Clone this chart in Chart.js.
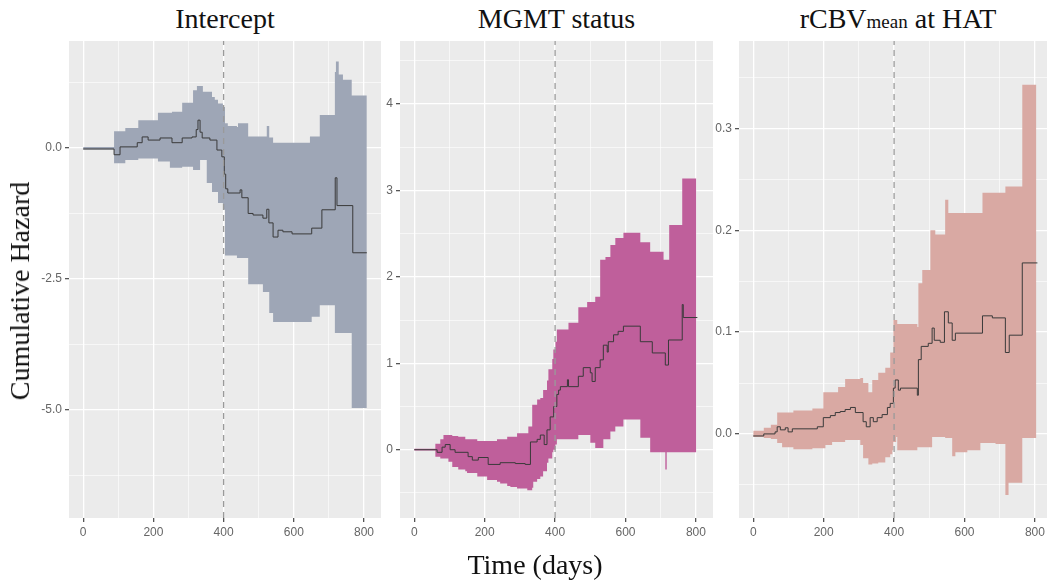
<!DOCTYPE html>
<html>
<head>
<meta charset="utf-8">
<script src="https://cdn.jsdelivr.net/npm/chart.js@4.4.0/dist/chart.umd.min.js"></script>
<style>
  html, body { margin: 0; padding: 0; background: #fff; width: 1047px; height: 583px; overflow: hidden; }
  .panel { position: absolute; top: 41px; height: 507px; }
  .txt { position: absolute; font-family: "Liberation Serif", "Times New Roman", serif; color: #111; white-space: nowrap; line-height: 34px; }
  .title { top: 2px; font-size: 28px; text-align: center; }
  .title small { font-size: 19px; }
</style>
</head>
<body>
<div class="panel" id="wrap1" style="left:24px;width:357px"><canvas id="c1"></canvas></div>
<div class="panel" id="wrap2" style="left:355px;width:358px"><canvas id="c2"></canvas></div>
<div class="panel" id="wrap3" style="left:694px;width:358px"><canvas id="c3"></canvas></div>

<div class="txt title" style="left:69px;width:312px">Intercept</div>
<div class="txt title" style="left:400px;width:313px">MGMT status</div>
<div class="txt title" style="left:739px;width:318px">rCBV<small>mean</small> at HAT</div>
<div class="txt" style="left:535px;top:548px;font-size:28px;transform:translateX(-50%)">Time (days)</div>
<div class="txt" style="left:20px;top:291px;font-size:28px;transform:translate(-50%,-50%) rotate(-90deg)">Cumulative Hazard</div>

<script>
// x axis (days)
const xMin = -40.4;
const xMax = 848.4;
const xMajor = [0, 200, 400, 600, 800];
const xMinor = [100, 300, 500, 700];
const cutDay = 400;

// Intercept
const p1BandT = [0, 88, 120, 157, 213, 247, 253, 282, 313, 324, 333, 341, 352, 367, 375, 384, 398, 404, 412, 438, 441, 466, 470, 512, 523, 530, 541, 623, 646, 651, 674, 717, 720, 728, 740, 765, 808];
const p1Upper = [0.02, 0.32, 0.38, 0.53, 0.67, 0.67, 0.69, 0.86, 1.10, 1.18, 1.18, 1.07, 1.07, 0.97, 0.92, 0.85, 0.78, 0.47, 0.42, 0.40, 0.47, 0.47, 0.22, 0.22, 0.42, 0.20, 0.10, 0.10, 0.22, 0.22, 0.63, 1.45, 1.65, 1.40, 1.30, 1.00, 1.00];
const p1Lower = [-0.03, -0.29, -0.23, -0.20, -0.26, -0.38, -0.38, -0.36, -0.42, -0.42, -0.23, -0.23, -0.67, -0.84, -0.84, -1.05, -1.18, -2.05, -2.05, -2.10, -2.10, -2.10, -2.60, -2.75, -2.75, -3.15, -3.32, -3.32, -3.32, -3.22, -3.00, -3.53, -3.53, -3.53, -3.53, -4.96, -4.96];
const p1LineT = [0, 88, 105, 154, 168, 185, 219, 253, 282, 310, 322, 327, 333, 339, 361, 381, 395, 402, 406, 412, 447, 452, 470, 484, 512, 523, 529, 541, 555, 569, 595, 651, 680, 718, 723, 768, 808];
const p1Line = [-0.02, -0.13, 0.02, 0.10, 0.21, 0.15, 0.19, 0.10, 0.19, 0.21, 0.35, 0.53, 0.30, 0.19, 0.15, -0.04, -0.17, -0.50, -0.78, -0.86, -0.80, -0.95, -1.25, -1.28, -1.34, -1.17, -1.43, -1.70, -1.57, -1.60, -1.64, -1.53, -1.18, -0.57, -1.10, -2.00, -2.00];
const p1YMajor = [-5, -2.5, 0];
const p1YMinor = [-6.25, -3.75, -1.25, 1.25];

// MGMT status
const p2BandT = [0, 60, 74, 83, 97, 108, 125, 145, 150, 179, 207, 235, 244, 264, 273, 292, 321, 324, 335, 338, 349, 358, 366, 377, 381, 392, 395, 401, 405, 438, 466, 491, 500, 514, 528, 537, 543, 557, 571, 594, 642, 670, 708, 713, 717, 724, 761, 801];
const p2Upper = [0.01, 0.07, 0.12, 0.17, 0.17, 0.16, 0.15, 0.12, 0.12, 0.10, 0.10, 0.12, 0.12, 0.15, 0.15, 0.19, 0.19, 0.27, 0.52, 0.52, 0.58, 0.60, 0.69, 0.80, 0.93, 1.05, 1.16, 1.25, 1.39, 1.47, 1.65, 1.71, 1.71, 1.77, 2.20, 2.20, 2.23, 2.37, 2.45, 2.51, 2.40, 2.29, 2.20, 2.20, 2.20, 2.60, 3.14, 3.14];
const p2Lower = [-0.01, -0.08, -0.10, -0.10, -0.14, -0.20, -0.23, -0.25, -0.27, -0.31, -0.35, -0.37, -0.39, -0.42, -0.43, -0.45, -0.47, -0.47, -0.44, -0.37, -0.34, -0.31, -0.25, -0.15, -0.10, -0.03, 0.00, 0.06, 0.12, 0.12, 0.17, 0.17, 0.08, 0.02, 0.02, 0.12, 0.12, 0.21, 0.27, 0.35, 0.14, -0.03, -0.03, -0.23, -0.03, -0.03, -0.03, -0.03];
const p2LineT = [0, 65, 79, 88, 102, 116, 153, 165, 182, 210, 244, 287, 315, 330, 349, 358, 369, 377, 386, 396, 405, 410, 415, 435, 438, 466, 480, 500, 505, 514, 528, 537, 548, 551, 566, 579, 594, 642, 676, 713, 722, 761, 764, 804];
const p2Line = [0.00, -0.03, 0.03, 0.06, 0.00, -0.03, -0.08, -0.12, -0.09, -0.17, -0.15, -0.16, -0.17, 0.09, 0.12, 0.17, 0.06, 0.23, 0.38, 0.50, 0.64, 0.69, 0.73, 0.81, 0.73, 0.85, 0.95, 0.89, 0.79, 0.95, 1.04, 1.21, 1.13, 1.25, 1.33, 1.37, 1.43, 1.25, 1.12, 0.98, 1.27, 1.68, 1.53, 1.53];
const p2YMajor = [0, 1, 2, 3, 4];
const p2YMinor = [-0.5, 0.5, 1.5, 2.5, 3.5, 4.5];

// rCBV mean at HAT
const p3BandT = [0, 30, 50, 68, 82, 114, 168, 199, 205, 224, 241, 261, 304, 312, 327, 338, 355, 375, 389, 395, 398, 406, 409, 466, 469, 480, 503, 508, 517, 545, 554, 565, 574, 608, 645, 651, 688, 716, 725, 764, 804];
const p3Upper = [0.003, 0.006, 0.009, 0.021, 0.021, 0.023, 0.025, 0.041, 0.041, 0.041, 0.046, 0.054, 0.055, 0.050, 0.041, 0.053, 0.060, 0.065, 0.080, 0.080, 0.112, 0.112, 0.108, 0.105, 0.148, 0.161, 0.200, 0.200, 0.196, 0.230, 0.217, 0.217, 0.217, 0.217, 0.217, 0.237, 0.237, 0.243, 0.243, 0.343, 0.343];
const p3Lower = [-0.003, -0.004, -0.005, -0.009, -0.013, -0.015, -0.014, -0.014, -0.011, -0.008, -0.008, -0.006, -0.011, -0.024, -0.030, -0.029, -0.028, -0.023, -0.020, -0.016, -0.008, -0.003, -0.016, -0.013, -0.013, -0.013, -0.013, -0.003, -0.003, -0.004, -0.004, -0.022, -0.018, -0.016, -0.009, -0.009, -0.010, -0.060, -0.048, -0.004, -0.004];
const p3LineT = [0, 30, 62, 68, 77, 91, 99, 111, 182, 199, 219, 233, 247, 261, 276, 290, 312, 321, 332, 341, 352, 366, 381, 389, 398, 403, 412, 418, 466, 469, 477, 497, 508, 514, 531, 543, 554, 565, 574, 651, 679, 716, 727, 764, 807];
const p3Line = [-0.002, 0.000, 0.002, 0.007, 0.004, 0.006, 0.002, 0.005, 0.007, 0.016, 0.018, 0.021, 0.022, 0.024, 0.026, 0.021, 0.012, 0.007, 0.016, 0.012, 0.016, 0.019, 0.026, 0.030, 0.045, 0.053, 0.043, 0.045, 0.038, 0.073, 0.086, 0.089, 0.104, 0.092, 0.090, 0.120, 0.109, 0.092, 0.099, 0.116, 0.114, 0.080, 0.097, 0.168, 0.168];
const p3YMajor = [0, 0.1, 0.2, 0.3];
const p3YMinor = [-0.05, 0.05, 0.15, 0.25, 0.35];

// gray ggplot panel
const panelBg = {
  id: "panelBg",
  beforeDraw(chart) {
    const a = chart.chartArea;
    chart.ctx.save();
    chart.ctx.fillStyle = "#EBEBEB";
    chart.ctx.fillRect(a.left, a.top, a.right - a.left, a.bottom - a.top);
    chart.ctx.restore();
  },
};

function pts(xs, ys) {
  return xs.map((x, i) => ({ x: x, y: ys[i] }));
}

function isIn(list, v) {
  return list.some((m) => Math.abs(m - v) < 1e-9);
}

function makePanel(id, p) {
  const yTicks = p.yMajor.concat(p.yMinor).sort((a, b) => a - b);
  const xTicks = xMajor.concat(xMinor).sort((a, b) => a - b);

  new Chart(document.getElementById(id), {
    type: "line",
    data: {
      datasets: [
        {
          // dashed line at day 400
          data: [{ x: cutDay, y: p.yMin }, { x: cutDay, y: p.yMax }],
          borderColor: "#9a9a9a",
          borderWidth: 1.3,
          borderDash: [6, 5],
          pointRadius: 0,
          fill: false,
        },
        {
          data: pts(p.lineT, p.line),
          borderColor: "#3a3a3a",
          borderWidth: 1,
          stepped: true,
          pointRadius: 0,
          fill: false,
        },
        {
          data: pts(p.bandT, p.upper),
          borderWidth: 0,
          borderColor: "rgba(0,0,0,0)",
          backgroundColor: p.color,
          stepped: true,
          pointRadius: 0,
          fill: "+1",
        },
        {
          data: pts(p.bandT, p.lower),
          borderWidth: 0,
          borderColor: "rgba(0,0,0,0)",
          stepped: true,
          pointRadius: 0,
          fill: false,
        },
      ],
    },
    options: {
      responsive: true,
      maintainAspectRatio: false,
      animation: false,
      layout: { padding: 0 },
      plugins: { legend: { display: false }, tooltip: { enabled: false } },
      scales: {
        x: {
          type: "linear",
          min: xMin,
          max: xMax,
          afterBuildTicks: (s) => { s.ticks = xTicks.map((v) => ({ value: v })); },
          afterFit: (s) => { s.height = 30; s.paddingLeft = 0; s.paddingRight = 0; },
          border: { display: false },
          grid: {
            color: "#ffffff",
            lineWidth: (c) => (c.tick && isIn(xMajor, c.tick.value) ? 1.3 : 0.6),
            tickColor: (c) => (c.tick && isIn(xMajor, c.tick.value) ? "#555" : "rgba(0,0,0,0)"),
            tickLength: 4,
          },
          ticks: {
            autoSkip: false,
            maxRotation: 0,
            padding: 3,
            color: "#666",
            font: { family: "Liberation Sans", size: 12 },
            callback: (v) => (isIn(xMajor, v) ? String(v) : ""),
          },
        },
        y: {
          type: "linear",
          min: p.yMin,
          max: p.yMax,
          afterBuildTicks: (s) => { s.ticks = yTicks.map((v) => ({ value: v })); },
          afterFit: (s) => { s.width = 45; s.paddingTop = 0; s.paddingBottom = 0; },
          border: { display: false },
          grid: {
            color: "#ffffff",
            lineWidth: (c) => (c.tick && isIn(p.yMajor, c.tick.value) ? 1.3 : 0.6),
            tickColor: (c) => (c.tick && isIn(p.yMajor, c.tick.value) ? "#555" : "rgba(0,0,0,0)"),
            tickLength: 4,
          },
          ticks: {
            autoSkip: false,
            padding: 3,
            color: "#666",
            font: { family: "Liberation Sans", size: 12 },
            callback: (v) => (isIn(p.yMajor, v) ? v.toFixed(p.digits) : ""),
          },
        },
      },
    },
    plugins: [panelBg],
  });
}

makePanel("c1", {
  bandT: p1BandT, upper: p1Upper, lower: p1Lower, lineT: p1LineT, line: p1Line,
  yMin: -7.06, yMax: 2.04, yMajor: p1YMajor, yMinor: p1YMinor, digits: 1,
  color: "#9EA6B6",
});
makePanel("c2", {
  bandT: p2BandT, upper: p2Upper, lower: p2Lower, lineT: p2LineT, line: p2Line,
  yMin: -0.79, yMax: 4.73, yMajor: p2YMajor, yMinor: p2YMinor, digits: 0,
  color: "#BF5F9B",
});
makePanel("c3", {
  bandT: p3BandT, upper: p3Upper, lower: p3Lower, lineT: p3LineT, line: p3Line,
  yMin: -0.0826, yMax: 0.386, yMajor: p3YMajor, yMinor: p3YMinor, digits: 1,
  color: "#D9A9A3",
});
</script>
</body>
</html>
